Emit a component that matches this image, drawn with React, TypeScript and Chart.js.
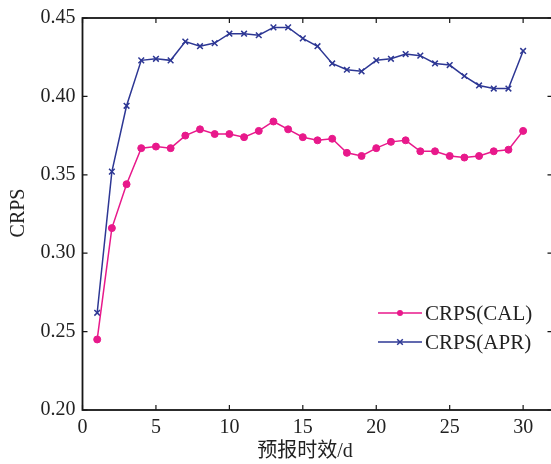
import React, { useEffect, useRef } from 'react';
import { Chart, registerables } from 'chart.js';

Chart.register(...registerables);

const days = [1, 2, 3, 4, 5, 6, 7, 8, 9, 10, 11, 12, 13, 14, 15, 16, 17, 18, 19, 20, 21, 22, 23, 24, 25, 26, 27, 28, 29, 30];
const calValues = [0.245, 0.316, 0.344, 0.367, 0.368, 0.367, 0.375, 0.379, 0.376, 0.376, 0.374, 0.378, 0.384, 0.379, 0.374, 0.372, 0.373, 0.364, 0.362, 0.367, 0.371, 0.372, 0.365, 0.365, 0.362, 0.361, 0.362, 0.365, 0.366, 0.378];
const aprValues = [0.262, 0.352, 0.394, 0.423, 0.424, 0.423, 0.435, 0.432, 0.434, 0.440, 0.440, 0.439, 0.444, 0.444, 0.437, 0.432, 0.421, 0.417, 0.416, 0.423, 0.424, 0.427, 0.426, 0.421, 0.420, 0.413, 0.407, 0.405, 0.405, 0.429];
const xTicks = [0, 5, 10, 15, 20, 25, 30];
const yTicks = [0.2, 0.25, 0.3, 0.35, 0.4, 0.45];
const seriesLabels = ['CRPS(CAL)', 'CRPS(APR)'];
const xTitle = '预报时效/d';
const yTitle = 'CRPS';

const PINK = '#e8198b';
const BLUE = '#2d3794';
const SERIF = "'Liberation Serif', 'Times New Roman', serif";

const framePlugin = {
  id: 'framePlugin',
  afterDatasetsDraw(chart: any) {
    const { ctx, chartArea, scales } = chart;
    const { left, right, top, bottom } = chartArea;
    const x = scales.x;
    const y = scales.y;
    ctx.save();
    ctx.strokeStyle = '#161616';
    ctx.lineWidth = 1.8;
    ctx.strokeRect(left, top, right - left, bottom - top);
    ctx.lineWidth = 1.2;
    const tl = 5;
    ctx.beginPath();
    xTicks.forEach((v) => {
      const px = x.getPixelForValue(v);
      ctx.moveTo(px, bottom);
      ctx.lineTo(px, bottom - tl);
      ctx.moveTo(px, top);
      ctx.lineTo(px, top + tl);
    });
    yTicks.forEach((v) => {
      const py = y.getPixelForValue(v);
      ctx.moveTo(left, py);
      ctx.lineTo(left + tl, py);
      ctx.moveTo(right, py);
      ctx.lineTo(right - tl, py);
    });
    ctx.stroke();

    // axis titles
    ctx.fillStyle = '#222';
    ctx.textAlign = 'center';
    ctx.textBaseline = 'middle';
    ctx.font = `20px 'Liberation Serif', 'Noto Sans CJK SC', serif`;
    ctx.fillText(xTitle, 305, 452);
    ctx.save();
    ctx.translate(19, 213);
    ctx.rotate(-Math.PI / 2);
    ctx.font = `20px ${SERIF}`;
    ctx.fillText(yTitle, 0, 0);
    ctx.restore();

    // legend
    const rows = [313, 342];
    chart.data.datasets.forEach((ds: any, i: number) => {
      const ry = rows[i];
      ctx.strokeStyle = ds.borderColor;
      ctx.lineWidth = 1.5;
      ctx.beginPath();
      ctx.moveTo(378, ry);
      ctx.lineTo(422, ry);
      ctx.stroke();
      if (ds.pointStyle === 'circle') {
        ctx.fillStyle = ds.borderColor;
        ctx.beginPath();
        ctx.arc(400, ry, 3, 0, Math.PI * 2);
        ctx.fill();
      } else {
        const r = 2.8;
        ctx.beginPath();
        ctx.moveTo(400 - r, ry - r);
        ctx.lineTo(400 + r, ry + r);
        ctx.moveTo(400 - r, ry + r);
        ctx.lineTo(400 + r, ry - r);
        ctx.stroke();
      }
      ctx.fillStyle = '#222';
      ctx.textAlign = 'left';
      ctx.textBaseline = 'middle';
      ctx.font = `21px ${SERIF}`;
      ctx.fillText(ds.label, 425, ry + 1);
    });
    ctx.restore();
  },
};

const CANVAS_W = 558;

export default function App() {
  const ref = useRef<HTMLCanvasElement>(null);
  useEffect(() => {
    if (!ref.current) return;
    const chart = new Chart(ref.current, {
      type: 'line',
      data: {
        datasets: [
          {
            label: seriesLabels[0],
            data: days.map((d, i) => ({ x: d, y: calValues[i] })),
            borderColor: PINK,
            backgroundColor: PINK,
            borderWidth: 1.5,
            pointStyle: 'circle',
            pointRadius: 3.5,
            pointBorderWidth: 1,
            tension: 0,
          },
          {
            label: seriesLabels[1],
            data: days.map((d, i) => ({ x: d, y: aprValues[i] })),
            borderColor: BLUE,
            backgroundColor: BLUE,
            borderWidth: 1.5,
            pointStyle: 'crossRot',
            pointRadius: 4,
            pointBorderWidth: 1.5,
            tension: 0,
          },
        ],
      },
      options: {
        responsive: false,
        animation: false,
        devicePixelRatio: 1,
        layout: { padding: { top: 18, left: 0, right: 0, bottom: 0 } },
        plugins: { legend: { display: false }, tooltip: { enabled: false } },
        scales: {
          x: {
            type: 'linear',
            min: 0,
            max: 32,
            grid: { display: false, drawTicks: false },
            border: { display: false },
            afterBuildTicks: (s: any) => {
              s.ticks = xTicks.map((v) => ({ value: v }));
            },
            afterFit: (s: any) => {
              s.height = 54;
              s.paddingLeft = 0;
              s.paddingRight = 0;
            },
            ticks: {
              autoSkip: false,
              maxRotation: 0,
              padding: 6,
              color: '#222',
              font: { family: SERIF, size: 20 },
              callback: (v: any) => String(v),
            },
          },
          y: {
            type: 'linear',
            min: 0.2,
            max: 0.45,
            grid: { display: false, drawTicks: false },
            border: { display: false },
            afterBuildTicks: (s: any) => {
              s.ticks = yTicks.map((v) => ({ value: v }));
            },
            afterFit: (s: any) => {
              s.width = 82.5;
              s.paddingTop = 0;
              s.paddingBottom = 0;
            },
            ticks: {
              autoSkip: false,
              padding: 7,
              color: '#222',
              font: { family: SERIF, size: 20 },
              callback: (v: any) => Number(v).toFixed(2),
            },
          },
        },
      },
      plugins: [framePlugin],
    } as any);
    return () => chart.destroy();
  }, []);
  return (
    <div style={{ position: 'fixed', left: 0, top: 0, width: 551, height: 464, overflow: 'hidden', background: '#fff' }}>
      <canvas ref={ref} width={CANVAS_W} height={464} style={{ display: 'block', width: CANVAS_W, height: 464 }} />
    </div>
  );
}
